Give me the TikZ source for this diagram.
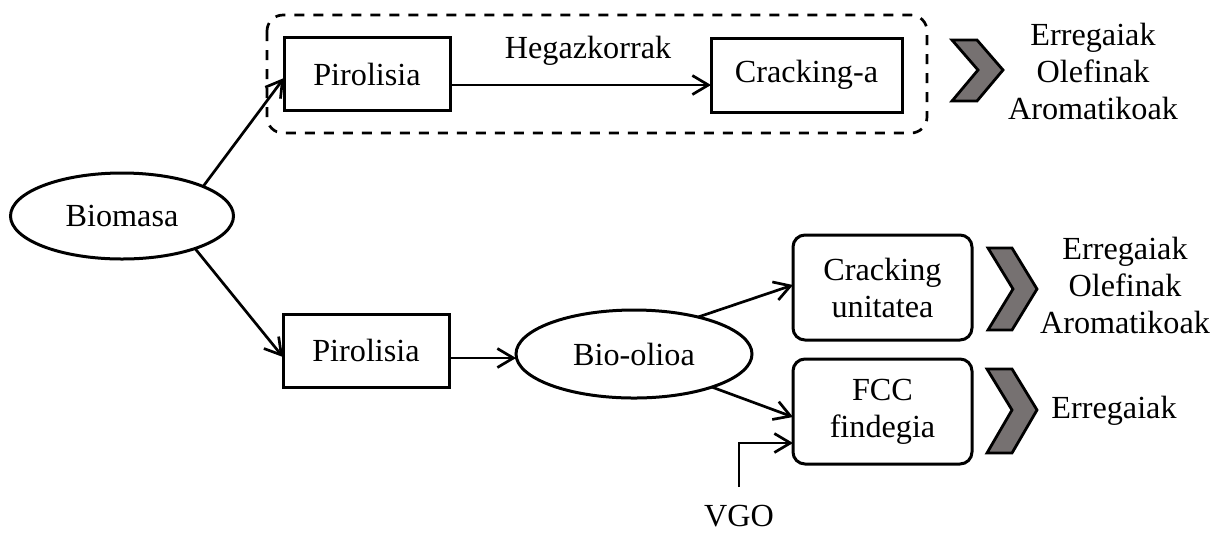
\documentclass[tikz,border=0pt]{standalone}
\usepackage{fontspec}
\setmainfont{Liberation Serif}
\usetikzlibrary{arrows.meta,shapes.geometric,calc}
\definecolor{chevgray}{RGB}{118,113,113}
\begin{document}
\begin{tikzpicture}[x=0.5pt,y=-0.5pt,
  font=\fontsize{16.1}{18.5}\selectfont,
  every node/.style={inner sep=0pt,outer sep=0pt},
  plainbox/.style={draw,line width=1.5pt,rectangle,align=center},
  roundbox/.style={draw,line width=1.5pt,rectangle,rounded corners=6pt,align=center,
    minimum width=89.5pt,minimum height=52.5pt},
  oval/.style={draw,line width=1.5pt,ellipse},
  link/.style={line width=1.35pt,-{Straight Barb[length=8pt,width=9.5pt,line width=1.35pt]}},
  chev/.style={fill=chevgray,draw=black,line width=1.4pt},
  group/.style={draw,line width=1.35pt,dash pattern=on 5pt off 4.5pt,rounded corners=8pt}]
\useasboundingbox (0,0) rectangle (1214,532);

% upper route: pyrolysis vapours cracked directly
\draw[group] (267,15) rectangle (927,133);
\node[oval,minimum width=111.5pt,minimum height=43pt] (bio) at (122,216) {Biomasa};
\node[plainbox,minimum width=83pt,minimum height=36.5pt] (pir1) at (367,74) {Pirolisia};
\node[plainbox,minimum width=95.5pt,minimum height=37pt] (crk1) at (806.5,75) {Cracking-a};
\node[anchor=base] (heg) at (588,58) {Hegazkorrak};
\draw[chev] (952,40) -- (977,40) -- (1003,70) -- (977,101) -- (952,101) -- (978,70) -- cycle;
\node[align=center] (out1) at (1093,71) {Erregaiak\\Olefinak\\Aromatikoak};

% lower route: bio-oil upgrading
\node[plainbox,minimum width=83pt,minimum height=36.5pt] (pir2) at (366,350.5) {Pirolisia};
\node[oval,minimum width=118pt,minimum height=44pt] (oil) at (634,354) {Bio-olioa};
\node[roundbox] (crk2) at (882.5,287.5) {Cracking\\unitatea};
\node[roundbox] (fcc) at (882.5,411.5) {FCC\\findegia};
\draw[chev] (988,248) -- (1012,248) -- (1037,289) -- (1012,330) -- (988,330) -- (1013,289) -- cycle;
\draw[chev] (987,369) -- (1012,369) -- (1037,410) -- (1012,453) -- (987,453) -- (1012,410) -- cycle;
\node[align=center] (out2) at (1125,285) {Erregaiak\\Olefinak\\Aromatikoak};
\node[anchor=base] (out3) at (1114,418) {Erregaiak};
\coordinate (vgo) at (739,487);
\node[anchor=base] (vgolbl) at (739,526) {VGO};

% connectors
\draw[link] (bio.20) -- ([yshift=-2pt]pir1.west);
\draw[link] (bio.-24) -- ([yshift=-3.25pt]pir2.west);
\draw[link] ([yshift=-5.5pt]pir1.east) -- ([yshift=-5.5pt]pir1.east -| crk1.west);
\draw[link] ([yshift=-3.75pt]pir2.east) -- ([yshift=-3.75pt]pir2.east -| oil.west);
\draw[link] (oil.30) -- ([yshift=1.25pt]crk2.west);
\draw[link] (oil.-23) -- ([yshift=-2.75pt]fcc.west);
\draw[link] (vgo) |- ([yshift=-15.75pt]fcc.west);
\end{tikzpicture}
\end{document}
